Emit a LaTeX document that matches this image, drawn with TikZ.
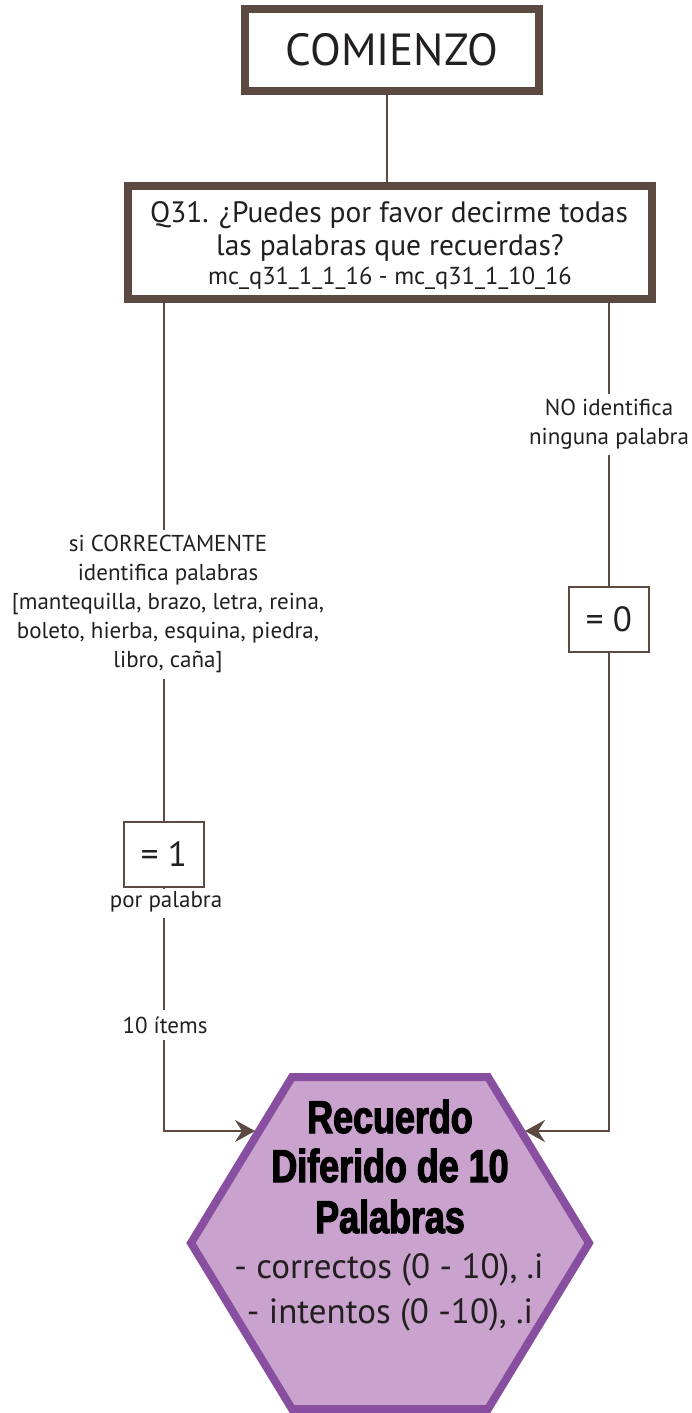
\documentclass[tikz,border=0pt]{standalone}
\usepackage{fontspec}
\setmainfont{PT Sans}
\newfontfamily\impactfont[FakeStretch=0.78,FakeBold=2.6]{Liberation Sans Bold}
\usetikzlibrary{arrows.meta}
\definecolor{brownline}{RGB}{92,74,66}
\definecolor{hexline}{RGB}{136,78,160}
\definecolor{hexfill}{RGB}{201,163,205}
\definecolor{txt}{RGB}{35,31,32}
\tikzset{
  thickbox/.style={draw=brownline, line width=7.5pt, fill=white, inner sep=0pt},
  thinbox/.style={draw=brownline, line width=2.5pt, fill=white, inner sep=0pt, minimum width=80pt, minimum height=65pt, font=\fontsize{35}{35}\selectfont, text=txt},
  conn/.style={draw=brownline, line width=2.5pt},
  lbl/.style={align=center, inner sep=0pt, text=txt, font=\fontsize{23}{29}\selectfont},
  txtline/.style={anchor=base, inner sep=0pt, text=txt},
  arr/.style={-{Stealth[length=20pt,width=22pt,inset=7pt]}},
}
\begin{document}
\begin{tikzpicture}[x=1pt,y=-1pt]
\useasboundingbox (0,0) rectangle (691,1413);
% start box
\node[thickbox, minimum width=294pt, minimum height=82pt, font=\fontsize{45}{45}\selectfont, text=txt] (start) at (392,50) {COMIENZO};
% question box
\node[thickbox, minimum width=524pt, minimum height=113pt] (q31) at (390,242.5) {};
\node[txtline, font=\fontsize{29.5}{29.5}\selectfont] (q31a) at (389,222) {Q31. ¿Puedes por favor decirme todas};
\node[txtline, font=\fontsize{29.5}{29.5}\selectfont] (q31b) at (390,255) {las palabras que recuerdas?};
\node[txtline, font=\fontsize{24.5}{24.5}\selectfont] (q31c) at (390,284) {mc\_q31\_1\_1\_16 - mc\_q31\_1\_10\_16};
\coordinate (startout) at ([xshift=-5pt]start.south);
\draw[conn] (startout) -- (q31.north -| startout);
% value boxes
\node[thinbox] (eq1) at (164,854.5) {= 1};
\node[thinbox] (eq0) at (609,619.5) {= 0};
% labels
\node[lbl] (lyes) at (168,604) {si CORRECTAMENTE\\identifica palabras\\{[}mantequilla, brazo, letra, reina,\\boleto, hierba, esquina, piedra,\\libro, caña{]}};
\node[lbl] (lno) at (609,424) {NO identifica\\ninguna palabra};
\node[lbl] (lpor) at (166,902) {por palabra};
\node[lbl] (litems) at (165,1025) {10 ítems};
% hexagon
\coordinate (hA) at (292,1077);
\coordinate (hB) at (488,1077);
\coordinate (hC) at (589,1243);
\coordinate (hD) at (488,1409);
\coordinate (hE) at (292,1409);
\coordinate (hF) at (191,1243);
\draw[draw=hexline, fill=hexfill, line width=8pt, line join=miter] (hA) -- (hB) -- (hC) -- (hD) -- (hE) -- (hF) -- cycle;
\coordinate (inL) at (255,1131);
\coordinate (inR) at (525,1131);
\node[txtline, font=\impactfont\fontsize{46}{46}\selectfont, text=black] (h1) at (390,1133) {Recuerdo};
\node[txtline, font=\impactfont\fontsize{46}{46}\selectfont, text=black] (h2) at (390,1182) {Diferido de 10};
\node[txtline, font=\impactfont\fontsize{46}{46}\selectfont, text=black] (h3) at (390,1233) {Palabras};
\node[txtline, font=\fontsize{35}{35}\selectfont] (h4) at (389,1278) {- correctos (0 - 10), .i};
\node[txtline, font=\fontsize{35}{35}\selectfont] (h5) at (390,1323) {- intentos (0 -10), .i};
% connectors
\draw[conn] (q31.south -| eq1.north) ++(0,-4) -- ([yshift=5pt]lyes.north -| eq1.north);
\draw[conn] ([yshift=-6pt]lyes.south -| eq1.north) -- (eq1.north);
\draw[conn] (eq1.south) -- ([yshift=2pt]lpor.north -| eq1.south);
\draw[conn] ([yshift=-5pt]lpor.south -| eq1.south) -- ([yshift=6pt]litems.north -| eq1.south);
\draw[conn, arr] ([yshift=-6pt]litems.south -| eq1.south) |- (inL);
\draw[conn] (q31.south -| eq0.north) ++(0,-4) -- ([yshift=5pt]lno.north -| eq0.north);
\draw[conn] ([yshift=-6pt]lno.south -| eq0.north) -- (eq0.north);
\draw[conn, arr] (eq0.south) |- (inR);
\end{tikzpicture}
\end{document}
